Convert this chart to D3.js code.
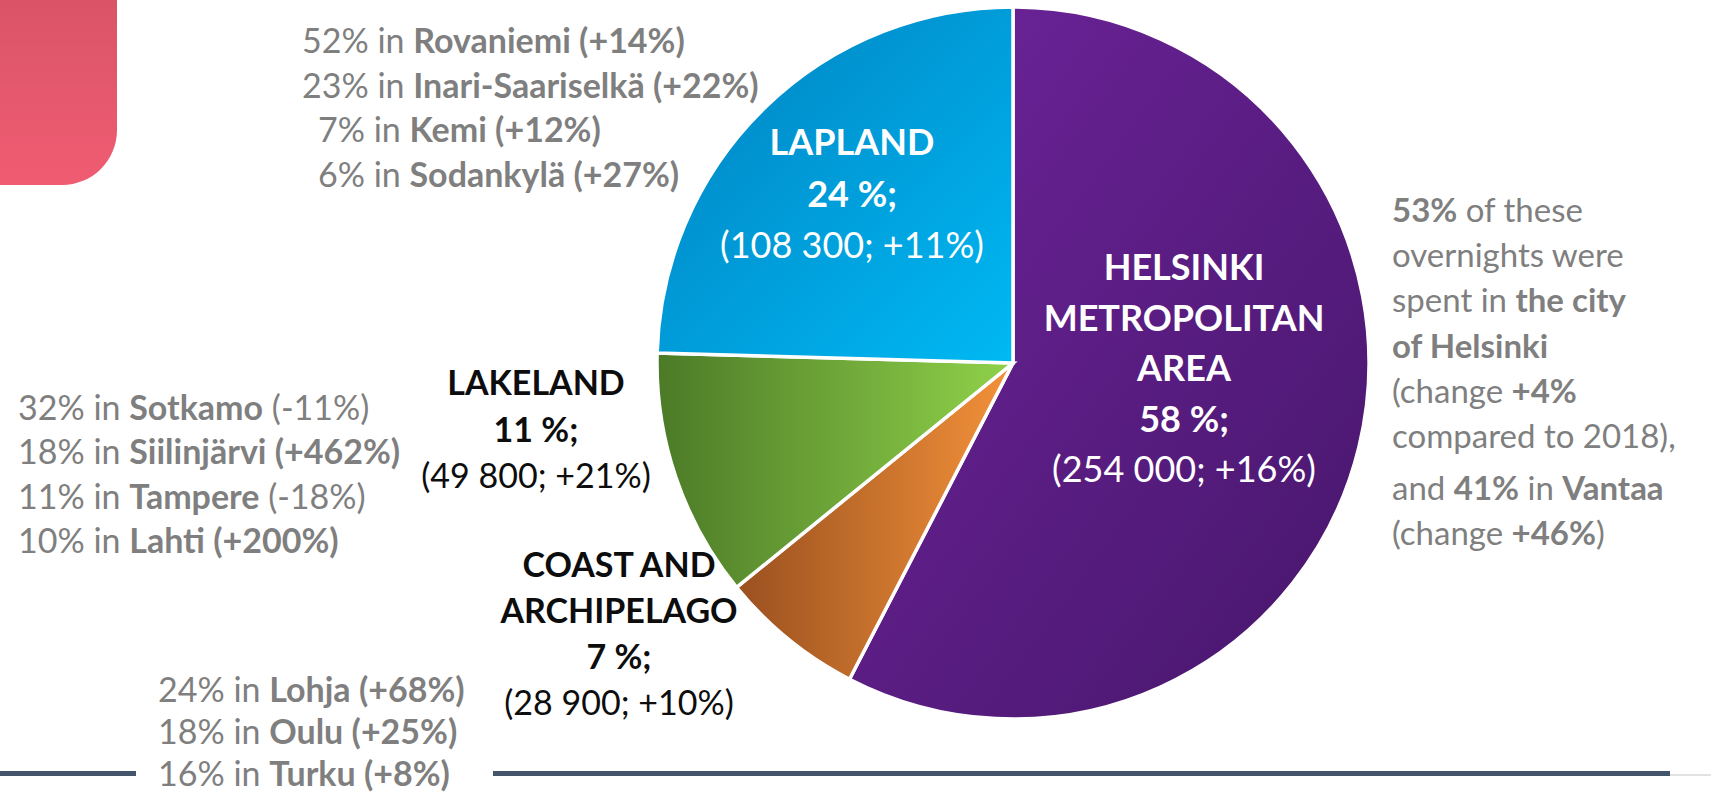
<!DOCTYPE html>
<html>
<head>
<meta charset="utf-8">
<script src="https://cdn.jsdelivr.net/npm/d3@7"></script>
<style>
  html, body { margin:0; padding:0; background:#fff; overflow:hidden; }
  svg { display:block; font-family: Lato, "Open Sans", sans-serif; }
</style>
</head>
<body>
<svg id="drawing_region"></svg>
<script>
// pie data (overnights 2019, share, change)
const regions = ["HELSINKI METROPOLITAN AREA", "COAST AND ARCHIPELAGO", "LAKELAND", "LAPLAND"];
const titleLines = [["HELSINKI", "METROPOLITAN", "AREA"], ["COAST AND", "ARCHIPELAGO"], ["LAKELAND"], ["LAPLAND"]];
const overnights = [254000, 28900, 49800, 108300];
const shares = ["58 %;", "7 %;", "11 %;", "24 %;"];
const changes = ["+16%", "+10%", "+21%", "+11%"];

// city breakdowns
const laplandCities = ["Rovaniemi", "Inari-Saariselkä", "Kemi", "Sodankylä"];
const laplandPct = ["52%", "23%", "7%", "6%"];
const laplandChg = ["+14%", "+22%", "+12%", "+27%"];

const lakelandCities = ["Sotkamo", "Siilinjärvi", "Tampere", "Lahti"];
const lakelandPct = ["32%", "18%", "11%", "10%"];
const lakelandChg = ["-11%", "+462%", "-18%", "+200%"];

const coastCities = ["Lohja", "Oulu", "Turku"];
const coastPct = ["24%", "18%", "16%"];
const coastChg = ["+68%", "+25%", "+8%"];

// helsinki note, [text, bold]
const helsinkiNote = [
    [["53%", true], [" of these", false]],
    [["overnights were", false]],
    [["spent in ", false], ["the city", true]],
    [["of Helsinki", true]],
    [["(change ", false], ["+4%", true]],
    [["compared to 2018),", false]],
    [["and ", false], ["41%", true], [" in ", false], ["Vantaa", true]],
    [["(change ", false], ["+46%", true], [")", false]]
];

var config = {
    width: 1711,
    height: 797,
    cx: 1013,
    cy: 363,
    radius: 356
};

const gradStops = [
    {x2: 1, y2: 1, from: "#6e249c", to: "#46166a"},
    {x2: 1, y2: 0, from: "#9a501f", to: "#f4923a"},
    {x2: 1, y2: 0, from: "#4c7a27", to: "#90d24a"},
    {x2: 1, y2: 1, from: "#0080bf", to: "#00b9f3"}
];

const labelLayout = [
    {x: 1184, y: 280, dy: 50.5, size: 36, fill: "#ffffff"},
    {x: 619, y: 577, dy: 46, size: 34, fill: "#0d0d0d"},
    {x: 536, y: 395, dy: 46.5, size: 34, fill: "#0d0d0d"},
    {x: 852, y: 155, dy: 51.5, size: 36, fill: "#ffffff"}
];

const svg = d3.select("#drawing_region")
    .attr("width", config.width)
    .attr("height", config.height);

const defs = svg.append("defs");

// corner tab
const tabGrad = defs.append("linearGradient")
    .attr("id", "tabGrad").attr("x1", 0).attr("y1", 0).attr("x2", 0).attr("y2", 1);
tabGrad.append("stop").attr("offset", 0).attr("stop-color", "#da5468");
tabGrad.append("stop").attr("offset", 1).attr("stop-color", "#f05c72");

svg.append("path")
    .attr("d", "M0,0 H117 V130 A55,55 0 0 1 62,185 H0 Z")
    .attr("fill", "url(#tabGrad)");

gradStops.forEach((g, i) => {
    const lg = defs.append("linearGradient")
        .attr("id", "slice" + i)
        .attr("x1", 0).attr("y1", 0).attr("x2", g.x2).attr("y2", g.y2);
    lg.append("stop").attr("offset", 0).attr("stop-color", g.from);
    lg.append("stop").attr("offset", 1).attr("stop-color", g.to);
});

// pie
const pie = d3.pie().sort(null).value(d => d);
const arc = d3.arc().innerRadius(0).outerRadius(config.radius);

const chart = svg.append("g")
    .attr("transform", `translate(${config.cx}, ${config.cy})`);

chart.selectAll("path")
    .data(pie(overnights))
    .enter()
    .append("path")
    .attr("d", arc)
    .attr("fill", (d, i) => `url(#slice${i})`)
    .attr("stroke", "#ffffff")
    .attr("stroke-width", 3.5)
    .attr("stroke-linejoin", "miter");

// slice labels
const fmt = d3.formatLocale({decimal: ".", thousands: " ", grouping: [3], currency: ["", ""]}).format(",");

regions.forEach((r, i) => {
    const L = labelLayout[i];
    const lines = titleLines[i].map(t => ({t: t, bold: true}))
        .concat([{t: shares[i], bold: true}, {t: `(${fmt(overnights[i])}; ${changes[i]})`, bold: false}]);
    svg.append("g").selectAll("text")
        .data(lines)
        .enter()
        .append("text")
        .attr("x", L.x)
        .attr("y", (d, j) => L.y + j * L.dy)
        .attr("text-anchor", "middle")
        .attr("font-size", L.size + "px")
        .attr("font-weight", d => d.bold ? 700 : 400)
        .attr("fill", L.fill)
        .text(d => d.t);
});

// rules at bottom
svg.append("line").attr("x1", 0).attr("x2", 136).attr("y1", 773.5).attr("y2", 773.5)
    .attr("stroke", "#44546a").attr("stroke-width", 5);
svg.append("line").attr("x1", 493).attr("x2", 1670).attr("y1", 773.5).attr("y2", 773.5)
    .attr("stroke", "#44546a").attr("stroke-width", 5);
svg.append("line").attr("x1", 1670).attr("x2", 1711).attr("y1", 775).attr("y2", 775)
    .attr("stroke", "#d9d9d9").attr("stroke-width", 1.5);

// city lists
function cityList(x, y0, dy, pct, cities, chg) {
    const g = svg.append("g")
        .attr("font-size", "34px")
        .attr("fill", "#7f7f7f");
    cities.forEach((c, i) => {
        const t = g.append("text")
            .attr("x", x + (pct[i].length < 3 ? 16 : 0))
            .attr("y", y0 + i * dy);
        t.append("tspan").text(pct[i] + " in ");
        t.append("tspan").attr("font-weight", 700).text(c);
        t.append("tspan").attr("font-weight", chg[i][0] === "+" ? 700 : 400).text(" (" + chg[i] + ")");
    });
}

cityList(302, 53, 44.7, laplandPct, laplandCities, laplandChg);
cityList(18, 420, 44.3, lakelandPct, lakelandCities, lakelandChg);
cityList(158, 702, 42, coastPct, coastCities, coastChg);

// helsinki note
const note = svg.append("g")
    .attr("font-size", "33px")
    .attr("fill", "#7f7f7f");
helsinkiNote.forEach((line, i) => {
    const t = note.append("text")
        .attr("x", 1392)
        .attr("y", 222 + i * 45.2 + (i >= 6 ? 7 : 0));
    line.forEach(s => {
        t.append("tspan").attr("font-weight", s[1] ? 700 : 400).text(s[0]);
    });
});
</script>
</body>
</html>
